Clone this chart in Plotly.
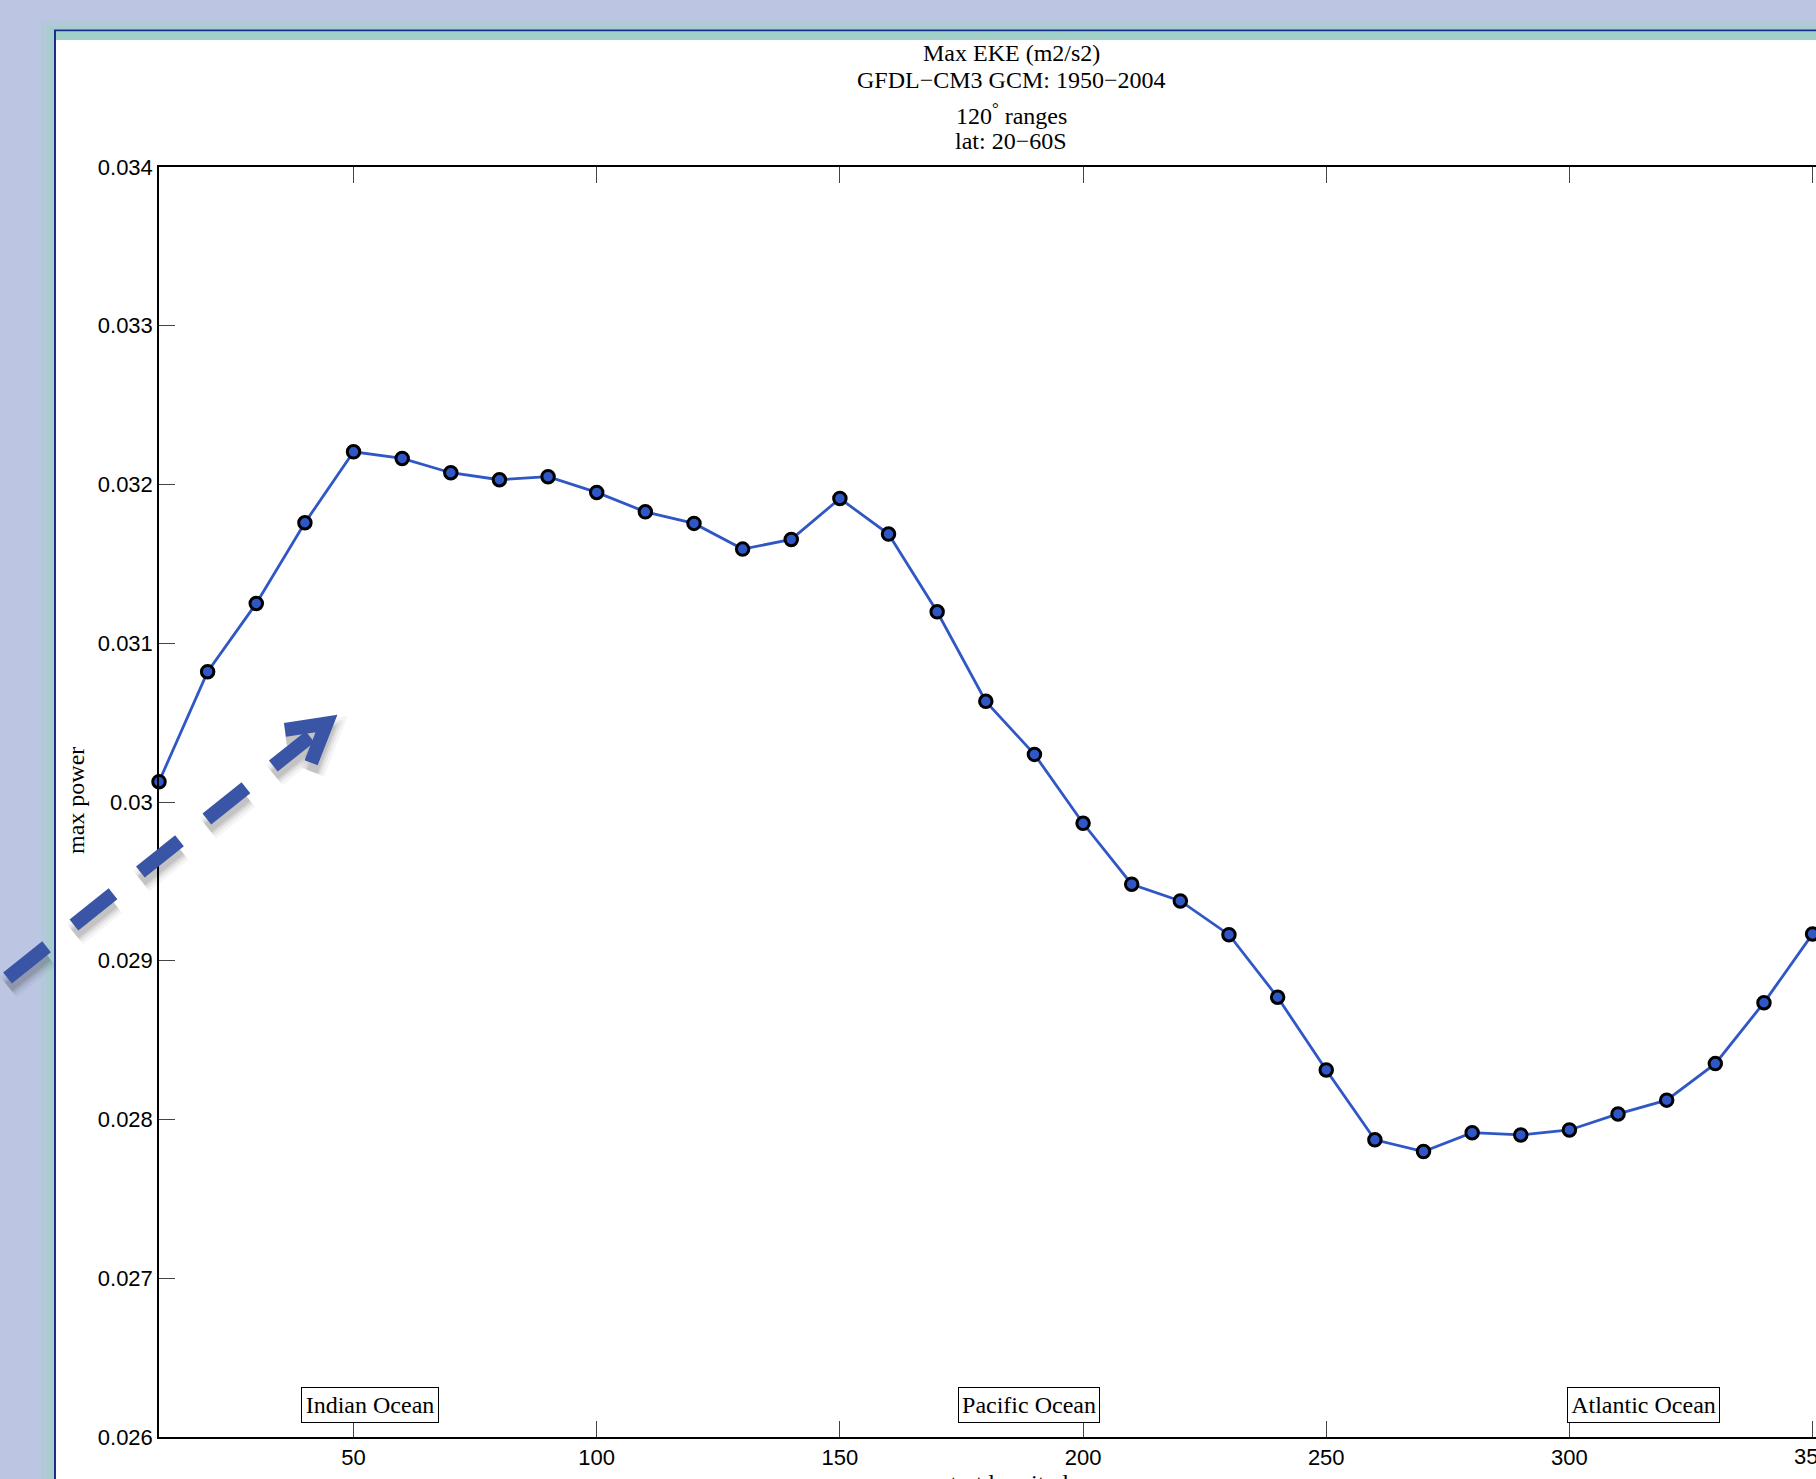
import math
import plotly.graph_objects as go

# ---- data: start longitude of each 120-degree range and its max EKE ----
start_lon = [10, 20, 30, 40, 50, 60, 70, 80, 90, 100, 110, 120, 130, 140, 150, 160, 170,
             180, 190, 200, 210, 220, 230, 240, 250, 260, 270, 280, 290, 300, 310, 320,
             330, 340, 350]
max_eke = [0.030128, 0.030821, 0.031251, 0.031759, 0.032206, 0.032164, 0.032074, 0.032030,
           0.032049, 0.031950, 0.031828, 0.031755, 0.031593, 0.031654, 0.031912, 0.031688,
           0.031198, 0.030634, 0.030300, 0.029866, 0.029482, 0.029377, 0.029164, 0.028770,
           0.028312, 0.027872, 0.027798, 0.027917, 0.027903, 0.027934, 0.028035, 0.028122,
           0.028352, 0.028736, 0.029169]

y_ticks = [0.026, 0.027, 0.028, 0.029, 0.030, 0.031, 0.032, 0.033, 0.034]
y_tick_text = ["0.026", "0.027", "0.028", "0.029", "0.03", "0.031", "0.032", "0.033", "0.034"]
x_ticks = [50, 100, 150, 200, 250, 300, 350]
edge_tick = 350  # last tick, its label runs off the right edge of the page

title_lines = ["Max EKE (m2/s2)", "GFDL\u2212CM3 GCM: 1950\u22122004",
               "120<sup>\u00b0</sup> ranges", "lat: 20\u221260S"]
ocean_names = ["Indian Ocean", "Pacific Ocean", "Atlantic Ocean"]

# ---- page geometry (pixels) ----
W, H = 1816, 1479
L, R, T, B = 159, 0, 167, 42
PW, PH = W - L - R, H - T - B


def px(x):
    return (x - L) / PW


def py(y):
    return (H - B - y) / PH


SERIF = "Liberation Serif, Times New Roman, serif"
SANS = "Liberation Sans, Arial, Helvetica, sans-serif"
LAVENDER = "#BCC6E2"
TEAL = "#A0D0C8"
LINE_BLUE = "#2F57C5"
ARROW_BLUE = "#3A55A5"

fig = go.Figure()
fig.add_trace(go.Scatter(
    x=start_lon, y=max_eke, mode="lines+markers", cliponaxis=False,
    line=dict(color=LINE_BLUE, width=2.8),
    marker=dict(size=12.5, color=LINE_BLUE, line=dict(color="black", width=3)),
    showlegend=False, hoverinfo="x+y",
))

shapes = []
# soft teal glow around the white panel
for i, a in enumerate([0.18, 0.28, 0.4, 0.55, 0.75, 1.0]):
    d = 17 - i * 3
    shapes.append(dict(type="rect", xref="paper", yref="paper", layer="below",
                       x0=px(55 - d), x1=px(W + 40), y0=py(30 - d * 0.6), y1=py(H + 40),
                       line=dict(width=0), fillcolor=TEAL, opacity=a * 0.5))
# white panel with dark blue frame
shapes.append(dict(type="rect", xref="paper", yref="paper", layer="below",
                   x0=px(55), x1=px(W + 40), y0=py(30.5), y1=py(H + 40),
                   line=dict(color="#1C2C8C", width=2), fillcolor="white"))
# teal strip along the top inside the frame
shapes.append(dict(type="rect", xref="paper", yref="paper", layer="below",
                   x0=px(56), x1=px(W + 40), y0=py(31.7), y1=py(40),
                   line=dict(width=0), fillcolor=TEAL))

# dashed arrow pointing at the Indian Ocean rise
ang = math.atan2(-0.6235, 0.7817)
ux, uy = math.cos(ang), math.sin(ang)
sx, sy = 7.5, 978.0
shaft_len = 387.0
ex, ey = sx + ux * shaft_len, sy + uy * shaft_len
vx, vy = sx + ux * 408.0, sy + uy * 408.0
back = math.atan2(-uy, -ux)
arm = 42.0
a1 = (vx + arm * math.cos(back + math.radians(30)), vy + arm * math.sin(back + math.radians(30)))
a2 = (vx + arm * math.cos(back - math.radians(30)), vy + arm * math.sin(back - math.radians(30)))


def head_path(dx=0.0, dy=0.0):
    pts = [(a1[0] + dx, a1[1] + dy), (vx + dx, vy + dy), (a2[0] + dx, a2[1] + dy)]
    return "M {} {} L {} {} L {} {}".format(*[v for p in pts for v in (px(p[0]), py(p[1]))])


# blurred-looking drop shadow built from a few faint strokes
for w, op in [(26, 0.035), (20, 0.05), (15, 0.07), (11, 0.08)]:
    dx, dy = 1.0, 9.0
    shapes.append(dict(type="line", xref="paper", yref="paper", layer="above",
                       x0=px(sx + dx), y0=py(sy + dy), x1=px(ex + dx), y1=py(ey + dy),
                       line=dict(color="black", width=w, dash="50px,35px"), opacity=op))
    shapes.append(dict(type="path", xref="paper", yref="paper", layer="above",
                       path=head_path(dx, dy), line=dict(color="black", width=w), opacity=op))
shapes.append(dict(type="line", xref="paper", yref="paper", layer="above",
                   x0=px(sx), y0=py(sy), x1=px(ex), y1=py(ey),
                   line=dict(color=ARROW_BLUE, width=14, dash="50px,35px")))
shapes.append(dict(type="path", xref="paper", yref="paper", layer="above",
                   path=head_path(), line=dict(color=ARROW_BLUE, width=14)))

annotations = []
for text, yc in zip(title_lines, [53.3, 79.9, 114.0, 141.3]):
    annotations.append(dict(text=text, xref="paper", yref="paper", x=px(1011), y=py(yc),
                            xanchor="center", yanchor="middle", showarrow=False,
                            font=dict(family=SERIF, size=24, color="black")))
annotations.append(dict(text="max power", xref="paper", yref="paper", x=px(76), y=py(801),
                        xanchor="center", yanchor="middle", showarrow=False, textangle=-90,
                        font=dict(family=SERIF, size=24, color="black")))
annotations.append(dict(text="start longitude", xref="paper", yref="paper", x=px(1010),
                        y=py(1483), xanchor="center", yanchor="middle", showarrow=False,
                        font=dict(family=SERIF, size=24, color="black")))
# the last x tick label sits at the page edge and is cut by it
annotations.append(dict(text=str(edge_tick), xref="x", yref="paper", x=edge_tick, y=py(1456),
                        xanchor="center", yanchor="middle", showarrow=False,
                        font=dict(family=SANS, size=22, color="black")))
for name, xc, wbox in zip(ocean_names, [53.3, 188.8, 315.2], [130, 134, 145]):
    annotations.append(dict(text=name, x=xc, y=0.026088, xref="x", yref="y",
                            xanchor="center", yanchor="bottom", showarrow=False,
                            width=wbox, height=28, borderpad=3, bordercolor="black",
                            borderwidth=1, bgcolor="white",
                            font=dict(family=SERIF, size=24, color="black")))

fig.update_layout(
    width=W, height=H,
    margin=dict(l=L, r=R, t=T, b=B, pad=0, autoexpand=False),
    paper_bgcolor=LAVENDER, plot_bgcolor="rgba(0,0,0,0)",
    shapes=shapes, annotations=annotations,
    xaxis=dict(range=[10, 10 + PW / (1657 / 340.7)], tickvals=x_ticks,
               ticks="inside", ticklen=16, tickwidth=1, tickcolor="#444",
               showline=True, linecolor="black", linewidth=1.5, mirror="ticks",
               showgrid=False, zeroline=False, automargin=False,
               tickfont=dict(family=SANS, size=22, color="black")),
    yaxis=dict(range=[0.026, 0.034], tickvals=y_ticks, ticktext=y_tick_text,
               ticks="inside", ticklen=16, tickwidth=1, tickcolor="#444",
               showline=True, linecolor="black", linewidth=1.5, mirror=False,
               showgrid=False, zeroline=False, automargin=False,
               tickfont=dict(family=SANS, size=22, color="black")),
)

fig.write_html("out.html")
